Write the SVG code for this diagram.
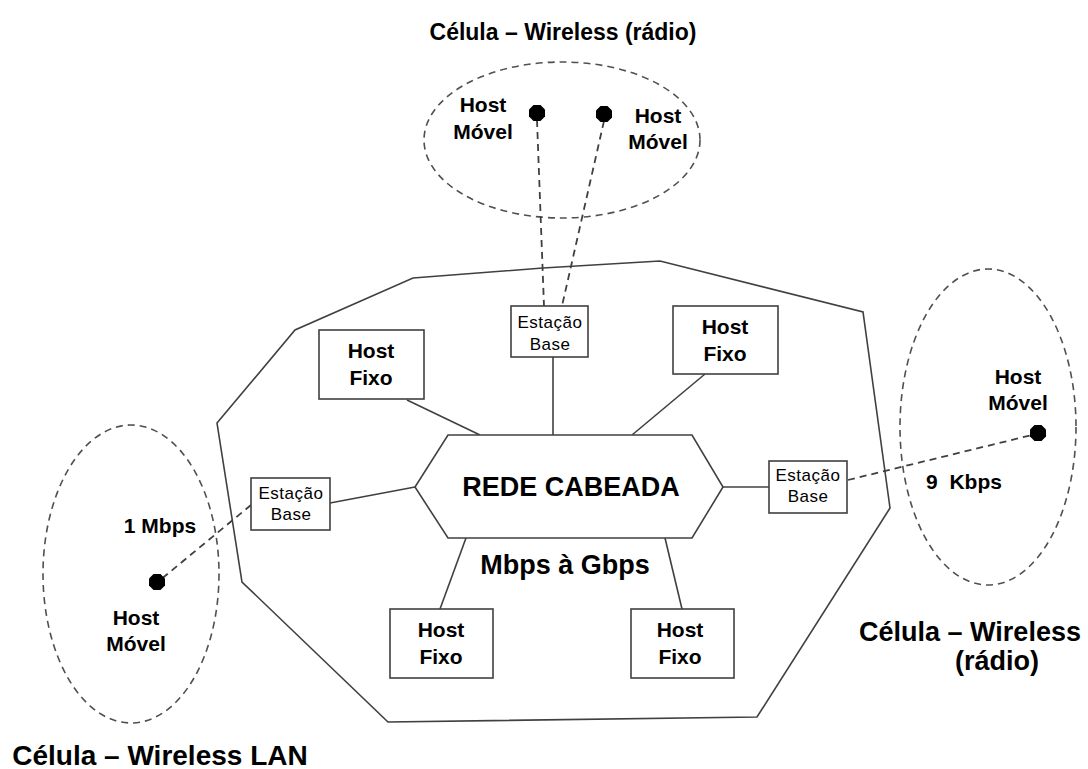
<svg xmlns="http://www.w3.org/2000/svg" width="1088" height="769" viewBox="0 0 1088 769">
<style>
.t{font-family:"Liberation Sans",Arial,sans-serif;font-weight:bold;fill:#000;text-anchor:middle}
.h{font-size:21px}
.s{font-family:"Liberation Sans",Arial,sans-serif;font-size:17px;fill:#000;text-anchor:middle;letter-spacing:0.5px}
.box{fill:#fff;stroke:#404040;stroke-width:1.6}
.ln{stroke:#404040;stroke-width:1.6;fill:none}
.dash{stroke:#404040;stroke-width:1.8;fill:none;stroke-dasharray:7 5}
.cell{stroke:#505050;stroke-width:1.6;fill:none;stroke-dasharray:7 5}
.dot{fill:#000}
</style>
<defs>
<polygon id="oct" points="-3.5,-8 3.5,-8 8,-3.5 8,3.5 3.5,8 -3.5,8 -8,3.5 -8,-3.5"/>
</defs>
<rect width="1088" height="769" fill="#fff"/>

<g id="cells">
<ellipse class="cell" cx="562" cy="140" rx="138" ry="78"/>
<ellipse class="cell" cx="988" cy="427" rx="88" ry="158"/>
<ellipse class="cell" cx="131" cy="574" rx="88" ry="149"/>
</g>

<g id="wired-area">
<polygon class="ln" points="217,423 295,330 413,278 543,268 660,261 863,312 890,508 757,717 388,722 242,582"/>
</g>

<g id="connectors">
<line class="ln" x1="407" y1="400" x2="480" y2="435"/>
<line class="ln" x1="553" y1="357" x2="553" y2="435"/>
<line class="ln" x1="705" y1="374" x2="632" y2="435"/>
<line class="ln" x1="330" y1="503" x2="415" y2="487"/>
<line class="ln" x1="723" y1="487" x2="769" y2="487"/>
<line class="ln" x1="466" y1="538" x2="440" y2="609"/>
<line class="ln" x1="665" y1="538" x2="682" y2="609"/>
<line class="dash" x1="537" y1="120" x2="544" y2="306"/>
<line class="dash" x1="604" y1="121" x2="562" y2="306"/>
<line class="dash" x1="848" y1="480" x2="1036" y2="434"/>
<line class="dash" x1="251" y1="505" x2="159" y2="581"/>
</g>

<g id="rede-cabeada">
<polygon class="box" points="448,435 692,435 723,487 692,538 448,538 415,487"/>
<text class="t" x="571" y="496" font-size="27">REDE CABEADA</text>
<text class="t" x="565" y="574" font-size="27">Mbps à Gbps</text>
</g>

<g id="host-fixo-1">
<rect class="box" x="319" y="330" width="105" height="69"/>
<text class="t h" x="371" y="358">Host</text>
<text class="t h" x="371" y="385">Fixo</text>
</g>
<g id="host-fixo-2">
<rect class="box" x="673" y="306" width="105" height="68"/>
<text class="t h" x="725" y="334">Host</text>
<text class="t h" x="725" y="361">Fixo</text>
</g>
<g id="host-fixo-3">
<rect class="box" x="390" y="609" width="103" height="69"/>
<text class="t h" x="441" y="637">Host</text>
<text class="t h" x="441" y="664">Fixo</text>
</g>
<g id="host-fixo-4">
<rect class="box" x="631" y="609" width="103" height="69"/>
<text class="t h" x="680" y="637">Host</text>
<text class="t h" x="680" y="664">Fixo</text>
</g>

<g id="estacao-base-top">
<rect class="box" x="511" y="306" width="77" height="51"/>
<text class="s" x="550" y="328">Estação</text>
<text class="s" x="550" y="350">Base</text>
</g>
<g id="estacao-base-left">
<rect class="box" x="251" y="478" width="79" height="52"/>
<text class="s" x="291" y="499">Estação</text>
<text class="s" x="291" y="520">Base</text>
</g>
<g id="estacao-base-right">
<rect class="box" x="769" y="461" width="78" height="52"/>
<text class="s" x="808" y="481">Estação</text>
<text class="s" x="808" y="502">Base</text>
</g>

<g id="host-movel-top-left">
<use href="#oct" class="dot" x="537" y="113"/>
<text class="t h" x="483" y="112">Host</text>
<text class="t h" x="483" y="139">Móvel</text>
</g>
<g id="host-movel-top-right">
<use href="#oct" class="dot" x="604" y="114"/>
<text class="t h" x="658" y="123">Host</text>
<text class="t h" x="658" y="149">Móvel</text>
</g>
<g id="host-movel-right">
<use href="#oct" class="dot" x="1038" y="433"/>
<text class="t h" x="1018" y="384">Host</text>
<text class="t h" x="1018" y="410">Móvel</text>
</g>
<g id="host-movel-left">
<use href="#oct" class="dot" x="157" y="582"/>
<text class="t h" x="136" y="625">Host</text>
<text class="t h" x="136" y="651">Móvel</text>
</g>

<g id="labels">
<text class="t h" x="160" y="533">1 Mbps</text>
<text class="t h" x="964" y="489" style="white-space:pre">9  Kbps</text>
<text class="t" x="563" y="40" font-size="23">Célula – Wireless (rádio)</text>
<text class="t" x="970" y="641" font-size="27">Célula – Wireless</text>
<text class="t" x="997" y="670" font-size="27">(rádio)</text>
<text class="t" x="160" y="765" font-size="28">Célula – Wireless LAN</text>
</g>
</svg>
